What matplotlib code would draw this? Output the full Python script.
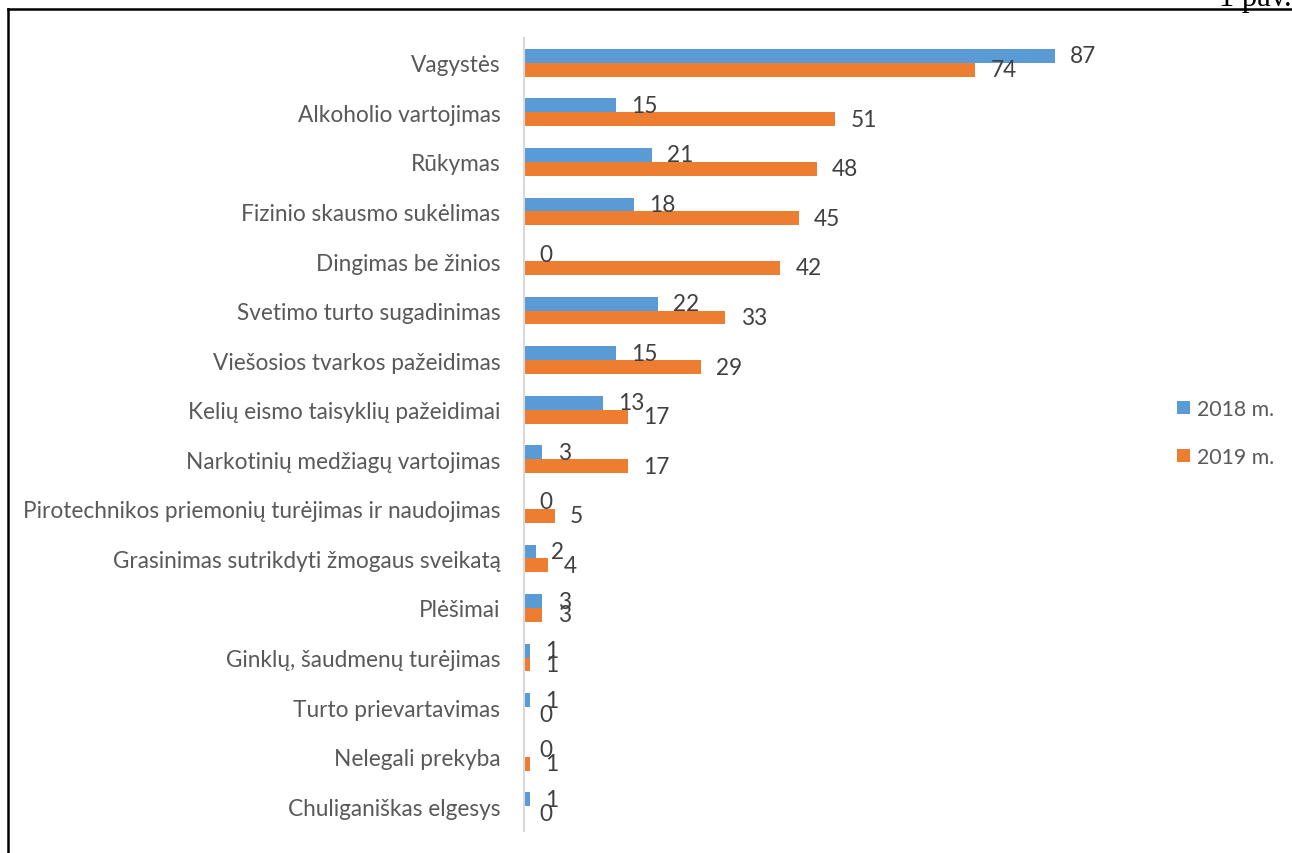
import matplotlib.pyplot as plt
import numpy as np

categories = ["Vagystės", "Alkoholio vartojimas", "Rūkymas", "Fizinio skausmo sukėlimas",
              "Dingimas be žinios", "Svetimo turto sugadinimas", "Viešosios tvarkos pažeidimas",
              "Kelių eismo taisyklių pažeidimai", "Narkotinių medžiagų vartojimas",
              "Pirotechnikos priemonių turėjimas ir naudojimas", "Grasinimas sutrikdyti žmogaus sveikatą",
              "Plėšimai", "Ginklų, šaudmenų turėjimas", "Turto prievartavimas", "Nelegali prekyba",
              "Chuliganiškas elgesys"]
vals_2018 = [87, 15, 21, 18, 0, 22, 15, 13, 3, 0, 2, 3, 1, 1, 0, 1]
vals_2019 = [74, 51, 48, 45, 42, 33, 29, 17, 17, 5, 4, 3, 1, 0, 1, 0]
series_names = ["2018 m.", "2019 m."]

blue = "#5B9BD5"
orange = "#ED7D31"
font = "Lato"
fs = 16.3

fig = plt.figure(figsize=(12.92, 8.54), dpi=100)
ax = fig.add_axes([524 / 1292, 1 - 832 / 854, (1134 - 524) / 1292, (832 - 39) / 854])

n = len(categories)
y = np.arange(n)
h = 0.28
b1 = ax.barh(y - h / 2, vals_2018, height=h, color=blue, label=series_names[0])
b2 = ax.barh(y + h / 2, vals_2019, height=h, color=orange, label=series_names[1])

for bars, vals in ((b1, vals_2018), (b2, vals_2019)):
    for bar, v in zip(bars, vals):
        ax.annotate(str(v), (v, bar.get_y() + bar.get_height() / 2), xytext=(11, 0),
                    textcoords="offset points", va="center", ha="left",
                    fontsize=fs, color="#404040", family=font)

ax.set_xlim(0, 100)
ax.set_ylim(n - 0.5, -0.5)
ax.set_yticks(y)
ax.set_yticklabels(categories, fontsize=fs, color="#595959", family=font)
ax.tick_params(axis="y", length=0, pad=17)
ax.set_xticks([])
for s in ["top", "right", "bottom"]:
    ax.spines[s].set_visible(False)
ax.spines["left"].set_color("#D9D9D9")
ax.spines["left"].set_linewidth(1.5)

leg = fig.legend(handles=[b1, b2], labels=series_names, loc="center left",
                 bbox_to_anchor=(1158 / 1292, 1 - 434 / 854), frameon=False,
                 handlelength=0.6, handleheight=0.6, handletextpad=0.35, labelspacing=1.3,
                 prop={"family": font, "size": 15.3})
for t in leg.get_texts():
    t.set_color("#595959")

# frame lines from the document page
fig.add_artist(plt.Line2D([8 / 1292, 1], [1 - 10 / 854, 1 - 10 / 854], color="black", lw=1.8))
fig.add_artist(plt.Line2D([8 / 1292, 8 / 1292], [1 - 10 / 854, 0], color="black", lw=1.8))
fig.text(1, 1 - 6 / 854, "1 pav.", ha="right", va="baseline", fontsize=22,
         family="Liberation Serif")

fig.savefig("out.png", dpi=100)
